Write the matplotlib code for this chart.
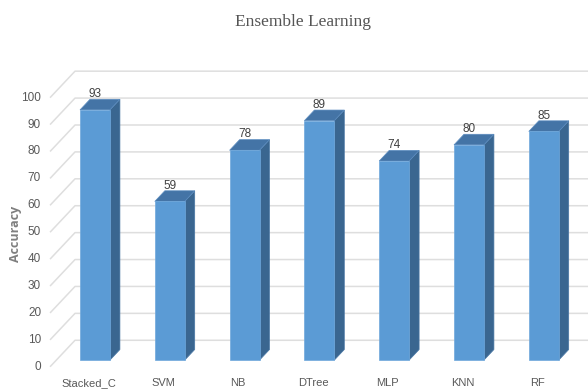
import matplotlib
matplotlib.use("Agg")
import matplotlib.pyplot as plt

# Chart data
categories = ["Stacked_C", "SVM", "NB", "DTree", "MLP", "KNN", "RF"]
accuracy = [93, 59, 78, 89, 74, 80, 85]
y_ticks = [0, 10, 20, 30, 40, 50, 60, 70, 80, 90, 100]
title = "Ensemble Learning"
y_label = "Accuracy"

# Pseudo-3D layout (data units: x = category index, y = value)
DX, DY = 0.334, 9.85          # shift from the front plane to the back wall
BAR_W = 0.40                  # bar width in category units
D_FRONT, D_BACK = 0.25, 0.65  # depth fraction of bar front / back faces
X_LEFT = -0.517               # left edge of the floor at the front

FRONT = "#5b9bd5"
TOP = "#4474a6"
SIDE = "#3a6690"
GRID = "#dedede"
TEXT = "#595959"
NARROW = ["Liberation Sans Narrow", "Liberation Sans", "DejaVu Sans"]

fig = plt.figure(figsize=(5.88, 3.89), dpi=100)
ax = fig.add_axes([0, 0, 1, 1])
ax.set_xlim(-1.186, 6.675)
ax.set_ylim(-8.26, 136.3)
ax.axis("off")

# Back wall gridlines with their diagonal side ticks
for v in y_ticks:
    ax.plot([X_LEFT, X_LEFT + DX, 7.5], [v, v + DY, v + DY],
            color=GRID, lw=1.1, solid_capstyle="butt", zorder=1)
    ax.text(X_LEFT - 0.12, v, str(v), ha="right", va="center",
            fontsize=8.5, color=TEXT, family=NARROW)

# Bars
for i, v in enumerate(accuracy):
    x0 = i - BAR_W / 2 + DX * D_FRONT
    x1 = x0 + BAR_W
    yb = DY * D_FRONT
    ddx = DX * (D_BACK - D_FRONT)
    ddy = DY * (D_BACK - D_FRONT)
    # side face
    ax.fill([x1, x1 + ddx, x1 + ddx, x1],
            [yb, yb + ddy, yb + v + ddy, yb + v],
            color=SIDE, ec="#4a78a6", lw=0.5, zorder=3)
    # top face
    ax.fill([x0, x1, x1 + ddx, x0 + ddx],
            [yb + v, yb + v, yb + v + ddy, yb + v + ddy],
            color=TOP, ec="#5b8cc0", lw=0.5, zorder=3)
    # front face
    ax.fill([x0, x1, x1, x0], [yb, yb, yb + v, yb + v],
            color=FRONT, ec="#6fa8dc", lw=0.5, zorder=4)
    ax.text(i + DX * D_FRONT, yb + v + ddy - 0.3, str(v), ha="center", va="bottom",
            fontsize=8.5, color="#404040", family=NARROW, zorder=5)
    ax.text(i, -8.0, categories[i], ha="center", va="bottom",
            fontsize=8, color=TEXT, family=NARROW)

fig.text(0.515, 0.944, title, ha="center", va="center", fontsize=12.5,
         color="#555555", family=["Liberation Serif", "DejaVu Serif"])
fig.text(0.027, 0.40, y_label, ha="center", va="center", rotation=90,
         fontsize=9, fontweight="bold", color="#7f7f7f",
         family=["Open Sans", "DejaVu Sans"])

fig.savefig("out.png", dpi=100)
